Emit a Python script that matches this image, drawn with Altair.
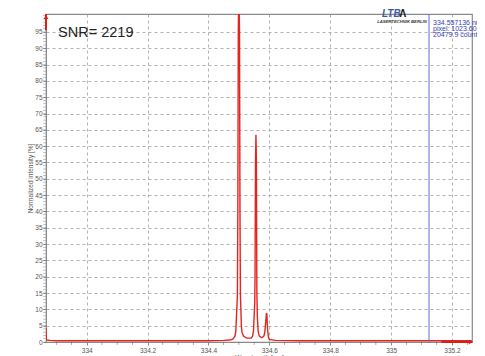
import altair as alt
import pandas as pd

# ---------------- data ----------------
wavelength = [333.8665, 333.8675, 333.870, 333.880, 333.900, 334.000, 334.100, 334.200,
              334.300, 334.400, 334.450, 334.470, 334.480, 334.487, 334.490, 334.492,
              334.4935, 334.495, 334.4965, 334.498, 334.499, 334.501, 334.502, 334.5035,
              334.505, 334.5065, 334.508, 334.510, 334.515, 334.525, 334.540, 334.545,
              334.548, 334.5505, 334.552, 334.553, 334.5545, 334.556, 334.5575, 334.559,
              334.5605, 334.563, 334.567, 334.575, 334.582, 334.585, 334.588, 334.5905,
              334.592, 334.594, 334.597, 334.600, 334.620, 334.700, 334.800, 334.900,
              335.000, 335.100, 335.200, 335.265]
intensity = [4.3, 0.8, 0.6, 0.5, 0.4, 0.4, 0.4, 0.4,
             0.4, 0.4, 0.5, 0.6, 0.9, 1.8, 3.5, 8,
             11, 14, 40, 95, 102, 102, 95, 40,
             14, 10, 5, 3, 1.8, 1.2, 1.2, 1.8,
             3.5, 9, 12, 20, 55, 63.5, 55, 15,
             8, 3.5, 1.8, 1.3, 1.8, 3, 6, 8.9,
             8.5, 4, 1.5, 0.8, 0.5, 0.4, 0.4, 0.4,
             0.4, 0.4, 0.4, 0.4]

x_ticks = [334.0, 334.2, 334.4, 334.6, 334.8, 335.0, 335.2]
y_ticks = [0, 5, 10, 15, 20, 25, 30, 35, 40, 45, 50, 55, 60, 65, 70, 75, 80, 85, 90, 95]
y_minor = list(range(0, 101))
x_minor = [333.90, 333.95, 334.05, 334.10, 334.15, 334.25, 334.30, 334.35, 334.45,
           334.50, 334.55, 334.65, 334.70, 334.75, 334.85, 334.90, 334.95, 335.05,
           335.10, 335.15, 335.25]

x_min, x_max = 333.8663, 335.2657
y_min, y_max = 0, 100.5

cursor_wl = [335.1245]

snr_text = ["SNR= 2219"]
snr_x = [333.906]
snr_y = [94.6]

cursor_lines = ["334.557136 nm", "pixel: 1023.60", "20479.9 counts"]
cursor_x = [335.1377, 335.1377, 335.1377]
cursor_y = [97.6, 95.8, 94.0]

logo_text = ["LTB", "LASERTECHNIK BERLIN"]
logo_x = [334.970, 334.9543]
logo_y = [100.5, 97.9]
logo_size = [10, 4.2]
logo_color = ["#3a5aa8", "#333333"]

mark_text = ["Λ"]
mark_x = [335.0275]
mark_y = [100.4]

# ---------------- chart ----------------
W, H = 426, 328
xscale = alt.Scale(domain=[x_min, x_max], nice=False, zero=False)
yscale = alt.Scale(domain=[y_min, y_max], nice=False, zero=True)

spec_df = pd.DataFrame({"wl": wavelength, "I": intensity})

AX = alt.Axis(values=x_ticks, format=".1~f", title="Wavelength [nm]",
              grid=True, gridDash=[3, 3], gridColor="#a0a0a0", gridWidth=0.8,
              tickColor="#888", tickSize=3, labelFontSize=6.5, labelColor="#555",
              labelPadding=2, domainColor="#888", titleFontSize=6.5,
              titleColor="#555", titleFontWeight="normal", titlePadding=1,
              labelFont="Liberation Sans", titleFont="Liberation Sans")
AY = alt.Axis(values=y_ticks, title="Normalized intensity [%]",
              grid=True, gridDash=[3, 3], gridColor="#a0a0a0", gridWidth=0.8,
              tickColor="#888", tickSize=3, labelFontSize=6.5, labelColor="#555",
              labelPadding=1, domainColor="#888", titleFontSize=6.5,
              titleColor="#555", titleFontWeight="normal", titlePadding=1,
              labelFont="Liberation Sans", titleFont="Liberation Sans")


def X():
    return alt.X("wl:Q", scale=xscale, axis=AX, title="Wavelength [nm]")


def Y():
    return alt.Y("I:Q", scale=yscale, axis=AY, title="Normalized intensity [%]")


spectrum = alt.Chart(spec_df).mark_line(color="#e4241f", strokeWidth=1.4, clip=True).encode(
    x=X(), y=Y())

cursor = alt.Chart(pd.DataFrame({"wl": cursor_wl})).mark_rule(
    color="#6b6bcc", strokeWidth=1).encode(x=X())

y_minor_ticks = alt.Chart(pd.DataFrame({"I": y_minor})).mark_tick(
    orient="horizontal", color="#777", size=3, thickness=0.6).encode(
    y=Y(), x=alt.value(-1.5))

x_minor_ticks = alt.Chart(pd.DataFrame({"wl": x_minor})).mark_tick(
    orient="vertical", color="#8a2a2a", size=3, thickness=0.6).encode(
    x=X(), y=alt.value(H + 1.5))

yarrow = alt.Chart(pd.DataFrame({"wl": [x_min, x_min], "I": [95.5, 100.5]})).mark_line(
    color="#d8201c", strokeWidth=2).encode(x=X(), y=Y())
yhead = alt.Chart(pd.DataFrame({"wl": [x_min], "I": [99.6]})).mark_point(
    shape="triangle-up", filled=True, color="#d8201c", size=22, opacity=1).encode(x=X(), y=Y())

xarrow = alt.Chart(pd.DataFrame({"wl": [335.165, x_max], "I": [0, 0]})).mark_line(
    color="#d8201c", strokeWidth=2).encode(x=X(), y=Y())
xhead = alt.Chart(pd.DataFrame({"wl": [335.262], "I": [0]})).mark_point(
    shape="triangle-right", filled=True, color="#d8201c", size=22, opacity=1).encode(x=X(), y=Y())

snr = alt.Chart(pd.DataFrame({"t": snr_text, "wl": snr_x, "I": snr_y})).mark_text(
    align="left", baseline="middle", fontSize=14.5, color="#222",
    font="Liberation Sans").encode(x=X(), y=Y(), text="t:N")

cur_txt = alt.Chart(pd.DataFrame({"t": cursor_lines, "wl": cursor_x, "I": cursor_y})).mark_text(
    align="left", baseline="middle", fontSize=7, color="#3343b0",
    font="Liberation Sans").encode(x=X(), y=Y(), text="t:N")

logo = alt.Chart(pd.DataFrame({"t": logo_text, "wl": logo_x, "I": logo_y,
                               "s": logo_size, "c": logo_color})).mark_text(
    align="left", baseline="middle", fontStyle="italic",
    fontWeight="bold", font="Liberation Sans").encode(
    x=X(), y=Y(), text="t:N", size=alt.Size("s:Q", scale=None, legend=None),
    color=alt.Color("c:N", scale=None, legend=None))

logo_mark = alt.Chart(pd.DataFrame({"t": mark_text, "wl": mark_x, "I": mark_y})).mark_text(
    align="left", baseline="middle", fontSize=10, fontWeight="bold", color="#111",
    font="Liberation Sans").encode(x=X(), y=Y(), text="t:N")

chart = alt.layer(
    spectrum, cursor, y_minor_ticks, x_minor_ticks, yarrow, yhead, xarrow, xhead,
    snr, cur_txt, logo, logo_mark
).properties(
    width=W, height=H,
    autosize=alt.AutoSizeParams(type="none"),
    padding={"left": 38, "top": 6, "right": 5, "bottom": 14},
    background="white",
).configure_view(stroke="#8a8a8a", strokeWidth=1.2)

chart.save("out.html", embed_options={"renderer": "svg", "actions": False})
